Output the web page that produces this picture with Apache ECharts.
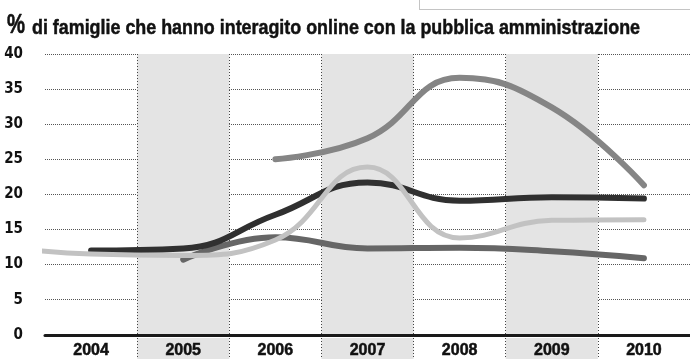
<!DOCTYPE html>
<html><head><meta charset="utf-8">
<script src="https://cdn.jsdelivr.net/npm/echarts@6/dist/echarts.min.js"></script>
<style>html,body{margin:0;padding:0;background:#fff}#c{width:690px;height:359px}</style>
</head><body><div id="c"></div>
<script>
// ---- data ----
const titleSymbol = '%';
const titleText = 'di famiglie che hanno interagito online con la pubblica amministrazione';
const years = ['2004', '2005', '2006', '2007', '2008', '2009', '2010'];
const seriesTop   = [null, null, 25.0, 28.0, 36.6, 32.4, 21.3];
const seriesMid   = [null, 10.7, 13.9, 12.3, 12.4, 11.9, 10.9];
const seriesDark  = [12.0, 12.3, 17.1, 21.7, 19.1, 19.6, 19.4];
const seriesLight = [11.5, 11.3, 13.5, 23.9, 13.8, 16.3, 16.4];
const lightLead = { year: 2003, value: 12.6 }; // earlier point, clipped by the plot edge

// ---- chart ----
const sans = "'Liberation Sans', Arial, sans-serif";
const narrow = "'DejaVu Sans Condensed', 'Liberation Sans', sans-serif";
const toPairs = (vals) => vals.map((v, i) => [Number(years[i]), v]).filter(p => p[1] !== null);

// horizontal compression so the bold title looks condensed like the original
const titleFont = 'bold 21px ' + sans;
const pctFont = 'bold 27px ' + sans;
const ctx = document.createElement('canvas').getContext('2d');
ctx.font = titleFont;
const titleScale = 608 / ctx.measureText(titleText).width;
ctx.font = pctFont;
const pctScale = 18 / ctx.measureText(titleSymbol).width;

const chart = echarts.init(document.getElementById('c'), null, { renderer: 'canvas' });
const catAxisCommon = {
  type: 'category', data: years, boundaryGap: true,
  axisTick: { show: false },
  splitLine: { show: true, showMinLine: false, showMaxLine: false,
    lineStyle: { type: [1, 2], color: '#444', width: 1 } },
  splitArea: { show: true, areaStyle: { color: ['rgba(255,255,255,0)', '#e4e4e4'] } }
};
function lineSeries(name, data, color, width, z) {
  return {
    name, type: 'line', xAxisIndex: 1, yAxisIndex: 0, data,
    smooth: 0.45, symbol: 'none', showSymbol: false, clip: true, z,
    lineStyle: { color, width, cap: 'round', join: 'round' },
    emphasis: { disabled: true }, animation: false
  };
}
chart.setOption({
  animation: false,
  graphic: [
    {
      type: 'rect', left: 417, top: -10,
      shape: { width: 290, height: 17 },
      style: { fill: 'none', stroke: '#888', lineWidth: 1, lineDash: [1, 1] }
    },
    {
      type: 'text', x: 7, y: 12, scaleX: pctScale,
      style: { text: titleSymbol, font: pctFont, fill: '#111', stroke: '#111', lineWidth: 0.6, verticalAlign: 'top' }
    },
    {
      type: 'text', x: 32, y: 18, scaleX: titleScale,
      style: { text: titleText, font: titleFont, fill: '#111', stroke: '#111', lineWidth: 0.5, verticalAlign: 'top' }
    }
  ],
  grid: [
    { left: 45, top: 54, width: 648, height: 284 },
    { left: 45, top: 338, width: 648, height: 30 }
  ],
  xAxis: [
    Object.assign({}, catAxisCommon, {
      gridIndex: 0,
      axisLine: { show: true, lineStyle: { color: '#1a1a1a', width: 3 } },
      axisLabel: { fontFamily: sans, fontWeight: 'bold', fontSize: 16, color: '#111', margin: 8,
        textBorderColor: '#111', textBorderWidth: 0.5 }
    }),
    { type: 'value', gridIndex: 0, min: 2003.5, max: 2010.5, show: false },
    Object.assign({}, catAxisCommon, {
      gridIndex: 1, axisLine: { show: false }, axisLabel: { show: false }
    })
  ],
  yAxis: [
    {
      type: 'value', gridIndex: 0, min: 0, max: 40, interval: 5,
      axisLine: { show: false }, axisTick: { show: false },
      axisLabel: { fontFamily: narrow, fontWeight: 'bold', fontSize: 15, color: '#111', margin: 22, align: 'right' },
      splitLine: { lineStyle: { type: [1, 1], color: '#555', width: 1 } }
    },
    { type: 'value', gridIndex: 1, min: 0, max: 1, show: false }
  ],
  series: [
    lineSeries('top', toPairs(seriesTop), '#858585', 6, 2),
    lineSeries('mid', toPairs(seriesMid), '#666666', 6, 3),
    lineSeries('dark', toPairs(seriesDark), '#303030', 6, 4),
    lineSeries('light', [[lightLead.year, lightLead.value]].concat(toPairs(seriesLight)), '#c2c2c2', 5, 5)
  ]
});
</script></body></html>
